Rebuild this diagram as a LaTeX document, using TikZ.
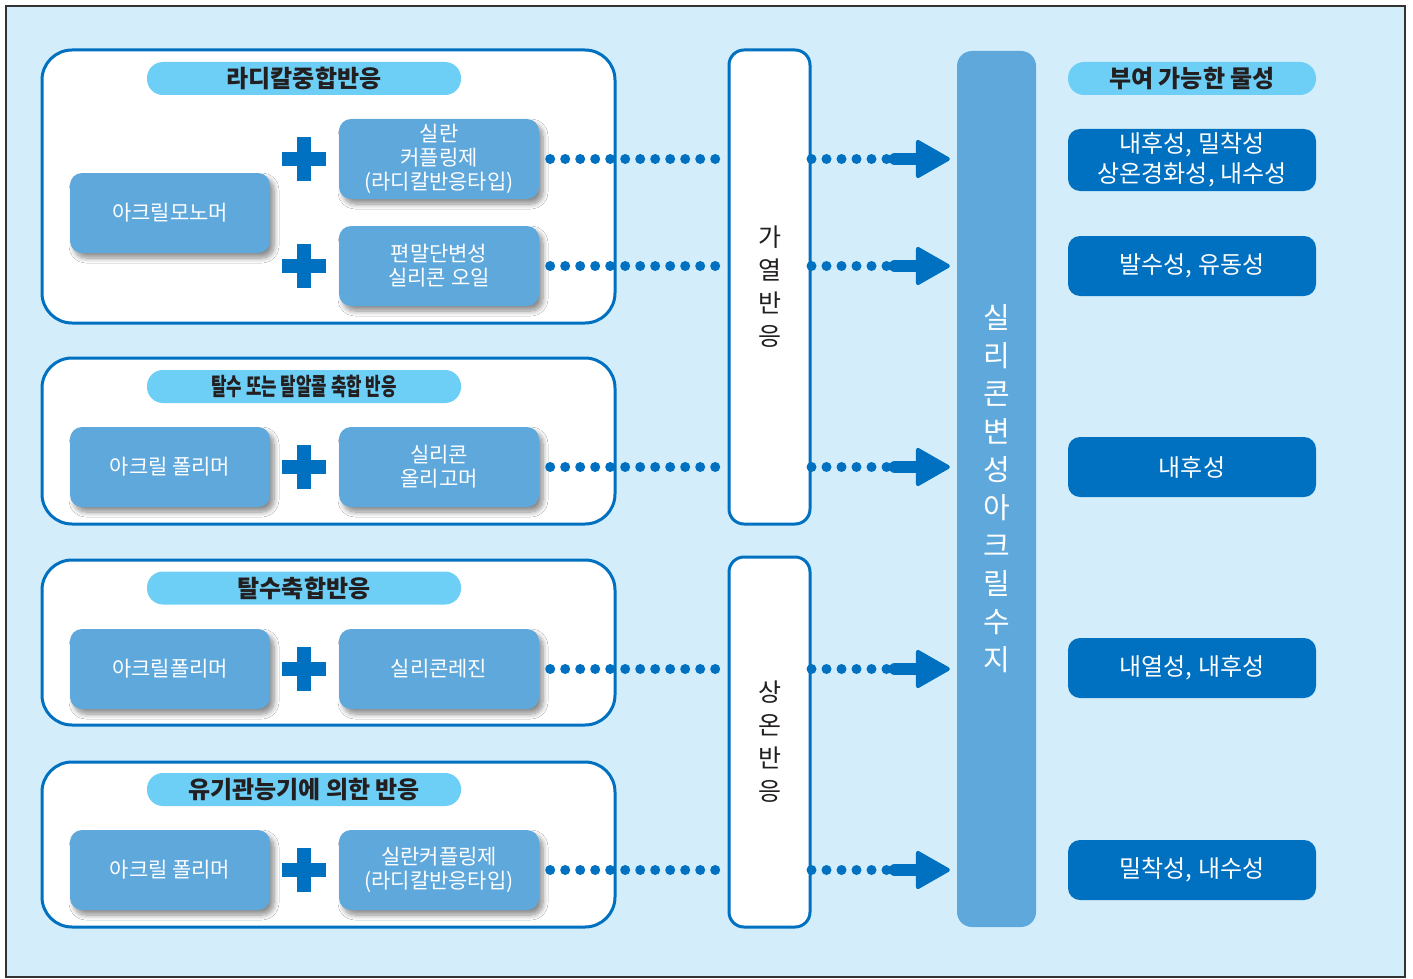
\documentclass[tikz,border=0pt]{standalone}
\usepackage{fontspec}
\setmainfont{Noto Sans CJK KR}
\usetikzlibrary{positioning, shapes, arrows.meta, shadows, shadows.blur}
\definecolor{bgblue}{RGB}{211,238,250}
\definecolor{deepblue}{RGB}{0,112,192}
\definecolor{midblue}{RGB}{95,168,220}
\definecolor{skyblue}{RGB}{109,207,246}
\definecolor{inkdark}{RGB}{35,31,32}
\tikzset{>=latex,
    groupbox/.style={draw=deepblue, line width=3pt, fill=white, rounded corners=30pt, minimum width=573pt, inner sep=0pt},
    titlepill/.style={fill=skyblue, rounded corners=16pt, minimum width=314pt, minimum height=33pt, inner sep=0pt, text=inkdark, font=\fontsize{24}{28}\selectfont\bfseries},
    itembox/.style={fill=midblue, rounded corners=12pt, minimum width=200pt, minimum height=80pt, inner sep=0pt, align=center, text=white, font=\fontsize{21}{24}\selectfont,
        blur shadow={shadow xshift=4pt, shadow yshift=-5pt, shadow blur steps=8, shadow blur radius=5pt, shadow opacity=45}},
    stepcol/.style={draw=deepblue, line width=3pt, fill=white, rounded corners=15pt, minimum width=81pt, inner sep=0pt, align=center, text=inkdark, font=\fontsize{25}{33}\selectfont},
    resinbar/.style={fill=midblue, rounded corners=15pt, minimum width=79pt, minimum height=876pt, inner sep=0pt, align=center, text=white, font=\fontsize{29}{38}\selectfont},
    propbox/.style={fill=deepblue, rounded corners=12pt, minimum width=248pt, minimum height=60pt, inner sep=0pt, align=center, text=white, font=\fontsize{24}{30}\selectfont},
    dotrow/.style={draw=deepblue, line width=10pt, line cap=round, dash pattern=on 0pt off 15pt},
    fatarrow/.style={draw=deepblue, line width=12pt, line cap=round, -{Triangle[length=36pt, width=40pt, round, line width=4pt]}},
    plussign/.pic={\fill[deepblue] (-22,-7) rectangle (22,7); \fill[deepblue] (-7,-22) rectangle (7,22);}
}

\begin{document}
\begin{tikzpicture}[x=1pt, y=-1pt]
    \useasboundingbox (0,0) rectangle (1413,979);
    \draw[fill=bgblue, draw=black!80, line width=2pt] (6,6) rectangle (1405,977);

    % reaction groups
    \node[groupbox, minimum height=273pt] (g1) at (328.5,186.5) {};
    \node[groupbox, minimum height=166pt] (g2) at (328.5,441) {};
    \node[groupbox, minimum height=165pt] (g3) at (328.5,642.5) {};
    \node[groupbox, minimum height=165pt] (g4) at (328.5,844.5) {};

    \node[titlepill] (t1) at (304,78.5) {라디칼중합반응};
    \node[titlepill] (t2) at (304,386.5) {\scalebox{0.70}[1]{탈수 또는 탈알콜 축합 반응}};
    \node[titlepill] (t3) at (304,588) {탈수축합반응};
    \node[titlepill] (t4) at (304,789.5) {유기관능기에 의한 반응};

    \node[itembox] (m1) at (170,213) {아크릴모노머};
    \node[itembox] (s1) at (439,159) {실란\\커플링제\\(라디칼반응타입)};
    \node[itembox] (s2) at (439,266) {편말단변성\\실리콘 오일};
    \node[itembox] (a2) at (170,467) {아크릴 폴리머};
    \node[itembox] (b2) at (439,467) {실리콘\\올리고머};
    \node[itembox] (a3) at (170,669) {아크릴폴리머};
    \node[itembox] (b3) at (439,669) {실리콘레진};
    \node[itembox] (a4) at (170,870) {아크릴 폴리머};
    \node[itembox] (b4) at (439,870) {실란커플링제\\(라디칼반응타입)};

    \foreach \py in {159,266,467,669,870}
        \pic at (304,\py) {plussign};

    % reaction steps and product
    \node[stepcol, minimum height=474pt] (hv) at (769.5,287) {가\\열\\반\\응};
    \node[stepcol, minimum height=370pt] (rv) at (769.5,742) {상\\온\\반\\응};
    \node[resinbar] (bar) at (996.5,489) {실\\리\\콘\\변\\성\\아\\크\\릴\\수\\지};

    % properties
    \node[titlepill, minimum width=248pt] (pt) at (1192,78.5) {부여 가능한 물성};
    \node[propbox, minimum height=62pt] (p1) at (1192,160) {내후성, 밀착성\\상온경화성, 내수성};
    \node[propbox] (p2) at (1192,266) {발수성, 유동성};
    \node[propbox] (p3) at (1192,467) {내후성};
    \node[propbox] (p4) at (1192,668) {내열성, 내후성};
    \node[propbox] (p5) at (1192,870) {밀착성, 내수성};

    \foreach \src/\via in {s1/hv, s2/hv, b2/hv, b3/rv, b4/rv}{
        \draw[dotrow] ([xshift=11pt]\src.east) -- ([xshift=-5pt]\src.east -| \via.west);
        \draw[dotrow] (\src.east -| \via.east) -- ([xshift=-62pt]\src.east -| bar.west);
        \draw[fatarrow] ([xshift=-62pt]\src.east -| bar.west) -- ([xshift=-7pt]\src.east -| bar.west);
    }
\end{tikzpicture}
\end{document}
